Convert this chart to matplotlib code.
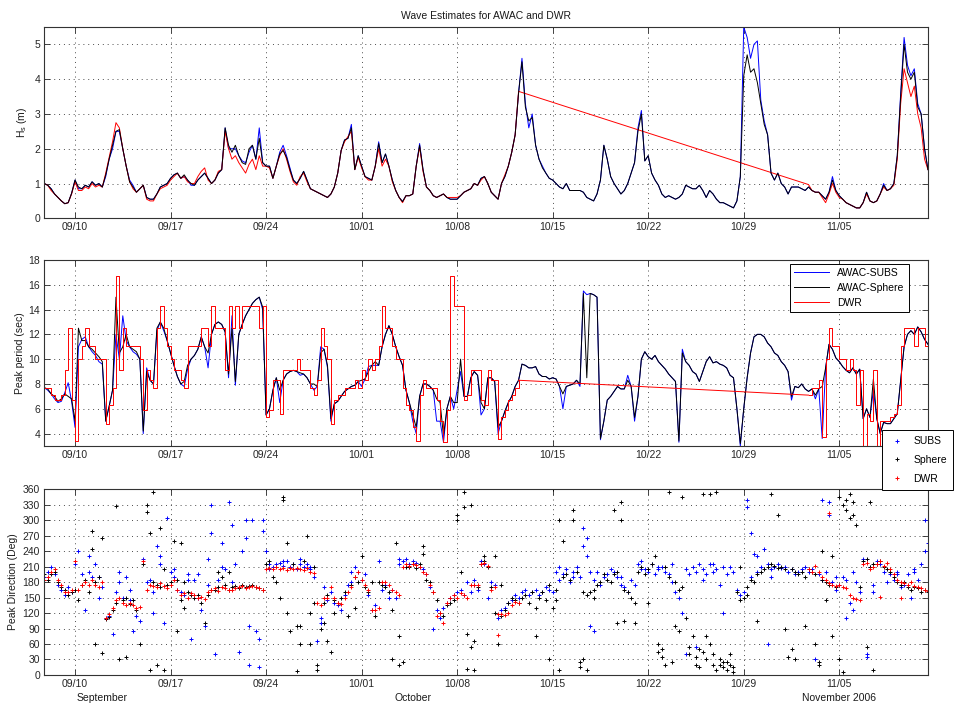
import numpy as np
import matplotlib
matplotlib.use("Agg")
import matplotlib.pyplot as plt
import matplotlib.dates as mdates
from matplotlib.transforms import blended_transform_factory

plt.rcParams['font.family'] = ['Liberation Sans', 'DejaVu Sans']
plt.rcParams['font.size'] = 7.5
plt.rcParams['mathtext.default'] = 'regular'

# --- data, one value every 6 h; AWAC series start 2006-09-07 18:00 ---
# each row below is one day (00, 06, 12, 18 h)
hs_subs = [1.0,
    0.95, 0.85, 0.7, 0.6,  0.5, 0.42, 0.45, 0.72,  1.1, 0.85, 0.85, 0.95,  0.9, 1.05, 0.95, 1.0,
    0.9, 1.2, 1.7, 2.0,  2.5, 2.5, 2.0, 1.5,  1.1, 0.95, 0.75, 0.85,  0.95, 0.6, 0.55, 0.55,
    0.7, 0.9, 0.95, 1.0,  1.15, 1.25, 1.3, 1.15,  1.2, 1.1, 0.95, 0.95,  1.1, 1.2, 1.3, 1.15,
    1.0, 1.1, 1.3, 1.4,  2.6, 2.0, 2.0, 2.0,  1.8, 1.65, 1.6, 1.9,  2.1, 1.7, 2.6, 1.6,
    1.5, 1.5, 1.15, 1.5,  1.9, 2.1, 1.8, 1.45,  1.1, 1.0, 1.15, 1.35,  1.1, 0.85, 0.8, 0.75,
    0.7, 0.65, 0.6, 0.7,  0.9, 1.3, 1.95, 2.25,  2.3, 2.7, 1.4, 1.8,
    1.5, 1.2, 1.15, 1.1,  1.5, 2.2, 1.6, 1.85,  1.5, 1.1, 0.8, 0.6,  0.48, 0.65, 0.65, 0.7,
    1.5, 2.15, 1.4, 0.9,  0.8, 0.65, 0.6, 0.65,  0.7, 0.6, 0.55, 0.55,  0.55, 0.65, 0.75, 0.8,
    0.85, 1.0, 0.95, 1.15,  1.2, 1.0, 0.75, 0.65,  0.55, 1.0, 1.2, 1.5,  1.9, 2.4, 3.6, 4.6,
    3.3, 2.6, 3.0, 2.1,  1.7, 1.5, 1.3, 1.15,  1.1, 1.0, 0.9, 0.85,  1.0, 0.8, 0.8, 0.8,
    0.8, 0.75, 0.6, 0.55,  0.5, 0.7, 1.1, 2.1,  1.7, 1.2, 1.0, 0.85,  0.7, 0.8, 1.0, 1.3,
    1.6, 2.6, 3.1, 1.65,  1.8, 1.3, 1.1, 0.95,  0.7, 0.6, 0.65, 0.6,  0.55, 0.6, 0.7, 0.95,
    0.9, 0.85, 0.85, 0.95,  0.8, 0.6, 0.8, 0.7,  0.55, 0.45, 0.45, 0.4,  0.35, 0.3, 0.5, 1.2,
    5.5, 5.2, 4.6, 5.0,  5.1, 3.4, 2.8, 2.4,  1.3, 1.1, 1.3, 1.0,
    0.9, 0.7, 0.9, 0.9,  0.9, 0.85, 0.8, 0.9,  0.8, 0.75, 0.75, 0.65,  0.55, 0.75, 1.2, 0.8,
    0.65, 0.55, 0.45, 0.4,  0.35, 0.3, 0.3, 0.45,  0.75, 0.5, 0.45, 0.5,  0.7, 1.0, 0.8, 0.85,
    1.0, 1.8, 3.6, 5.2,  4.4, 4.1, 4.3, 3.3,
    3.0, 2.0, 1.4]

hs_sphere = [1.0,
    0.95, 0.85, 0.7, 0.6,  0.5, 0.42, 0.45, 0.72,  1.1, 0.9, 0.85, 0.95,  0.9, 1.05, 0.95, 1.0,
    0.9, 1.25, 1.7, 2.1,  2.5, 2.55, 2.0, 1.5,  1.05, 0.9, 0.75, 0.85,  0.95, 0.6, 0.55, 0.55,
    0.7, 0.9, 0.95, 1.0,  1.15, 1.25, 1.3, 1.15,  1.25, 1.1, 1.0, 0.95,  1.1, 1.2, 1.3, 1.15,
    1.0, 1.1, 1.3, 1.4,  2.6, 2.1, 1.9, 2.1,  1.8, 1.6, 1.55, 2.0,  2.1, 1.7, 2.3, 1.6,
    1.5, 1.5, 1.15, 1.5,  1.85, 1.95, 1.75, 1.4,  1.1, 1.0, 1.15, 1.35,  1.1, 0.85, 0.8, 0.75,
    0.7, 0.65, 0.6, 0.7,  0.9, 1.3, 1.95, 2.25,  2.3, 2.6, 1.4, 1.8,
    1.5, 1.2, 1.15, 1.1,  1.5, 2.15, 1.6, 1.85,  1.5, 1.1, 0.8, 0.6,  0.48, 0.65, 0.65, 0.7,
    1.5, 2.1, 1.4, 0.9,  0.8, 0.65, 0.6, 0.65,  0.7, 0.6, 0.55, 0.55,  0.55, 0.65, 0.75, 0.8,
    0.85, 1.0, 0.95, 1.15,  1.2, 1.0, 0.75, 0.65,  0.55, 1.0, 1.2, 1.5,  1.9, 2.4, 3.6, 4.5,
    3.2, 2.8, 2.9, 2.1,  1.7, 1.45, 1.3, 1.15,  1.1, 1.0, 0.9, 0.85,  1.0, 0.8, 0.8, 0.8,
    0.8, 0.75, 0.6, 0.55,  0.5, 0.7, 1.1, 2.1,  1.7, 1.2, 1.0, 0.85,  0.7, 0.8, 1.0, 1.3,
    1.6, 2.5, 3.0, 1.65,  1.8, 1.3, 1.1, 0.95,  0.7, 0.6, 0.65, 0.6,  0.55, 0.6, 0.7, 0.95,
    0.9, 0.85, 0.85, 0.95,  0.8, 0.6, 0.8, 0.7,  0.55, 0.45, 0.45, 0.4,  0.35, 0.3, 0.5, 1.2,
    4.1, 4.7, 4.2, 4.3,  3.9, 3.3, 2.7, 2.4,  1.3, 1.1, 1.3, 1.0,
    0.9, 0.7, 0.9, 0.9,  0.9, 0.85, 0.8, 0.9,  0.8, 0.75, 0.75, 0.65,  0.55, 0.75, 1.1, 0.8,
    0.65, 0.55, 0.45, 0.4,  0.35, 0.3, 0.3, 0.45,  0.75, 0.5, 0.45, 0.5,  0.7, 0.95, 0.8, 0.85,
    1.0, 1.8, 3.5, 5.0,  4.2, 4.0, 4.2, 3.2,
    3.0, 2.0, 1.4]

# DWR: two pieces, 09/07 18:00 - 10/12 12:00 and 11/02 18:00 - 11/11 12:00 (no data between)
hs_dwr_a = [1.0,
    0.95, 0.8, 0.7, 0.6,  0.5, 0.42, 0.45, 0.7,  1.05, 0.8, 0.8, 0.9,  0.85, 1.0, 0.9, 0.95,
    0.9, 1.3, 1.75, 2.2,  2.75, 2.6, 2.0, 1.5,  1.05, 0.85, 0.75, 0.85,  0.95, 0.55, 0.5, 0.5,
    0.7, 0.85, 0.9, 0.95,  1.1, 1.2, 1.3, 1.15,  1.2, 1.05, 1.0, 1.0,  1.2, 1.35, 1.45, 1.1,
    1.0, 1.1, 1.35, 1.4,  2.5, 2.0, 1.7, 1.8,  1.6, 1.45, 1.3, 1.55,  1.7, 1.4, 1.8, 1.5,
    1.5, 1.45, 1.15, 1.5,  1.8, 2.0, 1.7, 1.35,  1.05, 0.95, 1.2, 1.3,  1.05, 0.85, 0.8, 0.75,
    0.7, 0.65, 0.6, 0.7,  0.9, 1.3, 1.95, 2.2,  2.35, 2.5, 1.4, 1.75,
    1.45, 1.2, 1.1, 1.1,  1.5, 2.0, 1.5, 1.7,  1.5, 1.05, 0.8, 0.6,  0.45, 0.65, 0.65, 0.7,
    1.5, 2.05, 1.35, 0.9,  0.8, 0.65, 0.6, 0.65,  0.7, 0.6, 0.6, 0.6,  0.6, 0.65, 0.75, 0.8,
    0.85, 1.0, 0.95, 1.1,  1.2, 1.0, 0.75, 0.65,  0.55, 1.0, 1.25, 1.5,  1.9, 2.4, 3.65]
hs_dwr_b = [0.97,
    0.8, 0.75, 0.75, 0.6,  0.45, 0.7, 1.0, 0.75,  0.6, 0.55, 0.45, 0.4,  0.35, 0.3, 0.3, 0.45,
    0.7, 0.5, 0.45, 0.5,  0.7, 0.9, 0.8, 0.85,  0.95, 1.7, 3.3, 4.3,  3.9, 3.5, 3.8, 3.0,
    2.6, 1.7, 1.4]

tp_subs = [7.7,
    7.5, 7.2, 6.8, 6.5,  6.6, 7.3, 8.1, 6.6,  4.5, 11.0, 11.6, 11.8,  11.0, 10.6, 10.3, 9.8,
    9.6, 5.0, 6.2, 7.5,  12.0, 10.0, 13.5, 11.5,  11.0, 10.6, 10.4, 10.0,  4.0, 9.3, 8.3, 8.0,
    12.3, 13.0, 12.3, 11.5,  10.5, 9.5, 8.6, 8.0,  7.8, 9.2, 10.0, 10.3,  10.8, 11.8, 11.0, 9.3,
    12.0, 12.8, 13.0, 12.8,  12.2, 8.5, 13.5, 7.9,  12.0, 12.8, 13.5, 14.0,  14.5, 14.8, 15.0, 14.0,
    5.5, 6.0, 7.5, 8.5,  6.5, 8.3, 8.8, 9.0,  9.1, 9.0, 8.7, 8.8,  8.5, 8.0, 7.5, 7.8,
    11.0, 10.8, 9.3, 5.0,  6.4, 6.6, 7.0, 7.4,  7.6, 7.8, 7.9, 8.2,
    7.8, 8.4, 9.4, 9.5,  9.5, 9.5, 11.0, 12.0,  12.7, 12.0, 11.0, 10.2,  9.5, 7.5, 6.5, 5.0,
    4.0, 7.0, 8.0, 8.0,  7.8, 7.5, 5.0, 5.0,  3.3, 6.0, 7.0, 6.0,  7.5, 9.0, 7.0, 7.0,
    8.5, 9.0, 8.7, 5.5,  6.0, 8.5, 8.5, 8.2,  4.0, 5.0, 5.8, 6.5,  7.0, 7.8, 8.3, 9.6,
    9.5, 9.3, 9.3, 9.4,  8.8, 8.6, 8.6, 8.4,  8.5, 8.4, 7.8, 6.0,  7.8, 7.9, 8.0, 8.3,
    7.8, 15.5, 15.2, 15.3,  15.2, 15.0, 3.5, 5.0,  6.7, 7.0, 7.4, 7.8,  7.6, 7.6, 8.7, 7.8,
    5.0, 7.0, 10.0, 10.6,  10.2, 10.0, 10.3, 9.8,  9.5, 9.2, 8.8, 8.5,  8.2, 3.3, 10.8, 9.8,
    9.5, 9.0, 8.8, 8.2,  9.0, 9.8, 10.2, 9.7,  9.8, 9.6, 9.5, 9.3,  8.7, 8.5, 6.0, 3.0,
    6.0, 8.5, 10.5, 11.8,  12.0, 12.0, 11.8, 11.3,  11.0, 10.5, 10.3, 9.8,
    9.5, 9.0, 6.7, 7.8,  7.7, 8.0, 7.6, 7.4,  7.6, 6.8, 7.6, 3.6,  9.3, 11.2, 10.8, 10.1,
    9.8, 9.4, 9.1, 8.9,  9.3, 8.8, 9.2, 5.2,  6.0, 5.3, 7.5, 5.2,  4.0, 4.9, 4.8, 4.8,
    5.2, 5.6, 8.3, 11.0,  12.0, 12.3, 12.0, 12.6,
    12.2, 11.6, 11.2]

tp_sphere = [7.7,
    7.6, 7.2, 7.0, 6.6,  6.8, 7.2, 7.0, 6.8,  5.0, 12.5, 11.5, 11.5,  11.0, 10.8, 10.5, 10.2,
    9.8, 5.0, 6.2, 7.5,  15.0, 10.5, 11.0, 12.0,  11.0, 10.8, 10.6, 10.0,  4.2, 9.0, 8.3, 8.0,
    12.5, 13.0, 12.5, 11.5,  10.5, 9.5, 8.6, 8.0,  8.2, 9.5, 10.0, 10.3,  10.8, 11.8, 11.0, 10.5,
    12.0, 12.8, 13.0, 12.8,  12.2, 8.8, 12.5, 8.2,  12.0, 12.8, 13.5, 14.0,  14.5, 14.8, 15.0, 14.2,
    5.5, 6.0, 7.5, 8.5,  7.5, 8.3, 8.8, 9.0,  9.1, 9.0, 8.9, 8.8,  8.5, 8.0, 8.0, 7.8,
    10.5, 10.8, 9.5, 5.2,  6.4, 6.6, 7.0, 7.4,  7.6, 7.8, 7.9, 8.2,
    8.3, 8.4, 9.0, 9.5,  9.8, 9.5, 11.0, 12.0,  12.7, 12.0, 11.0, 10.2,  9.5, 7.5, 6.5, 5.5,
    4.5, 7.0, 8.0, 8.0,  7.8, 7.5, 6.8, 6.5,  3.8, 6.0, 7.0, 6.5,  6.5, 10.0, 7.0, 7.0,
    8.5, 9.0, 8.7, 6.5,  6.0, 8.5, 8.5, 8.2,  4.5, 5.0, 5.8, 6.5,  7.0, 7.8, 8.3, 9.6,
    9.5, 9.3, 9.3, 9.4,  8.8, 8.6, 8.6, 8.4,  8.5, 8.4, 7.8, 7.2,  7.8, 7.9, 8.0, 8.3,
    8.0, 15.3, 8.5, 15.3,  15.2, 15.0, 3.6, 5.0,  6.7, 7.0, 7.4, 7.8,  7.6, 7.6, 8.3, 7.8,
    5.3, 7.0, 10.0, 10.6,  10.2, 10.0, 10.3, 9.8,  9.5, 9.2, 8.8, 8.5,  8.2, 3.4, 10.5, 9.8,
    9.5, 9.0, 8.8, 8.2,  9.0, 9.8, 10.2, 9.7,  9.8, 9.6, 9.5, 9.3,  8.7, 8.5, 6.0, 3.2,
    6.0, 8.5, 10.5, 11.8,  12.0, 12.0, 11.8, 11.3,  11.0, 10.5, 10.3, 9.8,
    9.5, 9.0, 7.0, 7.8,  7.7, 8.0, 7.6, 7.4,  7.6, 7.1, 7.6, 7.8,  9.3, 11.2, 10.8, 10.1,
    9.8, 9.4, 9.1, 8.9,  9.3, 8.8, 9.2, 5.2,  6.0, 5.3, 8.4, 5.2,  4.0, 4.9, 4.8, 4.8,
    5.2, 5.6, 8.3, 11.0,  12.0, 12.3, 12.0, 12.6,
    12.2, 11.6, 11.2]

tp_dwr_a = [7.7,
    7.7, 7.1, 6.7, 6.7,  7.1, 9.1, 12.5, 6.7,  3.4, 10.0, 11.1, 12.5,  11.1, 11.1, 10.0, 10.0,
    10.0, 4.8, 6.3, 7.7,  16.7, 9.1, 12.5, 11.1,  11.1, 11.1, 11.1, 10.0,  5.9, 9.1, 8.3, 7.7,
    12.5, 14.3, 12.5, 11.1,  10.0, 9.1, 9.1, 8.3,  7.7, 11.1, 11.1, 11.1,  11.1, 12.5, 12.5, 11.1,
    14.3, 12.5, 12.5, 12.5,  9.1, 14.3, 12.5, 14.3,  12.5, 14.3, 14.3, 14.3,  14.3, 14.3, 12.5, 14.3,
    5.3, 5.9, 8.3, 8.3,  5.6, 9.1, 9.1, 9.1,  9.1, 10.0, 9.1, 9.1,  9.1, 7.7, 7.1, 8.3,
    12.5, 11.1, 10.0, 4.8,  6.7, 7.1, 7.1, 7.7,  7.7, 7.7, 8.3, 7.7,
    9.1, 8.3, 10.0, 9.1,  10.0, 11.1, 14.3, 12.5,  12.5, 11.1, 10.0, 10.0,  7.7, 6.3, 5.9, 4.5,
    3.4, 7.1, 8.3, 7.7,  7.7, 7.7, 6.7, 5.0,  3.3, 5.9, 16.7, 14.3,  14.3, 14.3, 6.7, 7.1,
    9.1, 9.1, 9.1, 6.7,  6.3, 9.1, 8.3, 8.3,  3.6, 5.3, 5.9, 6.7,  7.1, 7.7, 8.3]
tp_dwr_b = [7.1,
    7.7, 7.7, 8.3, 3.7,  10.0, 12.5, 11.1, 11.1,  10.0, 10.0, 9.1, 10.0,  9.1, 6.3, 9.1, 2.9,
    5.6, 5.0, 9.1, 2.9,  5.0, 5.0, 5.0, 5.3,  5.6, 6.3, 11.1, 12.5,  12.5, 12.5, 11.1, 12.5,
    12.5, 11.1, 11.1]

dir_subs = [190,
    200, 210, 195, 175,  165, 155, 170, 160,  215, 240, 195, 125,  200, 190, 215, 150,
    170, 110, 115, 80,  160, 200, 150, 190,  145, 85, 115, 105,  225, 180, 185, 120,
    250, 215, 100, 305,  200, 190, 165, 160,  155, 195, 70, 185,  150, 125, 95, 225,
    275, 40, 185, 255,  205, 335, 290, 215,  45, 240, 265, 20,  300, 85, 15, 280,
    240, 215, 210, 215,  218, 212, 220, 210,  215, 205, 225, 210,  215, 205, 190, 65,
    100, 170, 145, 160,  140, 135, 125, 155,  175, 180, 210, 200,
    185, 195, 155, 125,  135, 220, 165, 175,  150, 165, 150, 215,  220, 225, 215, 220,
    218, 210, 205, 195,  170, 90, 125, 110,  130, 140, 150, 155,  160, 165, 155, 180,
    160, 185, 165, 220,  215, 150, 180, 175,  110, 125, 130, 140,  145, 155, 150, 160,
    165, 155, 160, 165,  155, 160, 170, 165,  160, 200, 210, 195,  205, 180, 200, 210,
    190, 250, 265, 200,  185, 200, 175, 190,  195, 205, 200, 190,  175, 170, 160, 185,
    175, 215, 220, 205,  200, 215, 195, 205,  210, 200, 195, 180,  160, 150, 120, 205,
    195, 210, 200, 215,  205, 195, 215, 200,  205, 175, 210, 195,  210, 200, 165, 155,
    160, 340, 190, 235,  200, 210, 245, 215,  205, 210, 215, 208,
    210, 200, 205, 195,  200, 205, 210, 200,  205, 30, 195, 185,  200, 335, 180, 165,
    175, 190, 185, 140,  125, 180, 160, 225,  40, 210, 175, 220,  215, 200, 180, 195,
    185, 200, 170, 175,  195, 150, 200, 185,
    215, 240, 255]

dir_sphere = [195,
    185, 195, 200, 180,  170, 165, 155, 160,  165, 145, 175, 185,  160, 245, 180, 190,
    265, 108, 112, 125,  140, 30, 145, 150,  138, 145, 125, 60,  215, 315, 10, 180,
    175, 170, 205, 175,  180, 260, 185, 145,  130, 160, 155, 150,  155, 140, 100, 155,
    165, 165, 170, 190,  175, 165, 170, 172,  168, 175, 170, 172,  175, 170, 168, 165,
    215, 220, 190, 180,  150, 340, 120, 85,  215, 95, 60, 220,  270, 120, 210, 20,
    90, 140, 155, 45,  145, 140, 150, 160,  115, 175, 190, 180,
    230, 170, 160, 180,  115, 180, 175, 170,  160, 125, 255, 75,  25, 210, 210, 215,
    208, 215, 250, 185,  180, 160, 145, 120,  115, 135, 140, 145,  300, 200, 355, 80,
    330, 10, 170, 215,  220, 210, 170, 230,  60, 115, 125, 140,  150, 145, 140, 150,
    155, 140, 160, 130,  150, 160, 145, 30,  130, 165, 300, 190,  195, 185, 320, 200,
    15, 160, 155, 160,  165, 175, 180, 195,  185, 180, 195, 200,  335, 105, 160, 150,
    140, 200, 210, 195,  205, 215, 230, 60,  35, 210, 190, 25,  180, 165, 170, 110,
    40, 75, 20, 50,  350, 30, 60, 20,  355, 30, 15, 25,  40, 15, 160, 145,
    150, 170, 185, 180,  195, 200, 205, 210,  215, 212, 208, 210,
    205, 35, 205, 200,  195, 200, 190, 205,  200, 195, 25, 185,  180, 175, 230, 170,
    345, 330, 320, 305,  335, 290, 170, 220,  225, 210, 215, 215,  220, 210, 205, 200,
    190, 180, 175, 180,  170, 165, 170, 168,
    160, 165, 160]

dir_dwr_a = [185,
    190, 200, 205, 185,  175, 160, 160, 165,  220, 165, 175, 180,  175, 185, 175, 170,
    180, 110, 118, 130,  145, 150, 140, 135,  140, 135, 130, 132,  220, 165, 175, 172,
    170, 178, 172, 168,  175, 185, 165, 155,  158, 150, 158, 155,  150, 152, 148, 160,
    165, 168, 162, 170,  168, 165, 165, 168,  170, 172, 168, 170,  172, 170, 168, 165,
    205, 208, 205, 210,  206, 208, 204, 207,  205, 208, 205, 203,  207, 200, 197, 140,
    135, 150, 150, 170,  150, 140, 138, 150,  160, 170, 190, 200,
    185, 175, 165, 125,  125, 130, 180, 180,  175, 165, 160, 155,  210, 215, 212, 215,
    213, 210, 200, 195,  175, 160, 115, 120,  100, 140, 150, 155,  150, 158, 155, 150,
    175, 175, 175, 215,  218, 212, 165, 170,  118, 118, 117, 120,  135, 142, 140]
dir_dwr_b = [205,
    200, 212, 200, 190,  185, 178, 175, 172,  175, 170, 168, 155,  150, 148, 145, 215,
    218, 205, 210, 215,  220, 212, 218, 205,  195, 185, 180, 178,  175, 180, 172, 170,
    168, 165, 163]

# extra direction points between the 6-hourly ones ('MM-DD HH', degrees)
subs_extra_time = ['09-11 00', '09-11 18', '09-13 06', '09-14 00', '09-15 18', '09-16 06',
    '09-17 06', '09-18 06', '09-19 00', '09-19 18', '09-20 00', '09-20 18', '09-21 12',
    '09-22 12', '09-22 18', '09-23 12', '09-23 18', '09-24 06', '09-25 06', '09-26 12',
    '09-27 06', '09-28 00', '09-30 06', '10-03 18', '10-09 06', '10-15 12', '10-16 12',
    '10-17 06', '10-17 12', '10-17 18', '10-18 00', '10-20 00', '10-21 12', '10-22 18',
    '10-23 18', '10-24 18', '10-25 12', '10-26 00', '10-26 18', '10-27 12', '10-29 06',
    '10-29 12', '10-30 00', '10-30 18', '10-31 00', '11-03 18', '11-04 06', '11-04 18',
    '11-05 12', '11-06 00', '11-07 00', '11-07 12', '11-09 06', '11-10 12', '11-11 06']
subs_extra_deg = [230, 190, 180, 165, 160, 230, 205, 185, 195, 175, 330, 210, 180,
    300, 95, 70, 300, 205, 220, 215, 210, 110, 200, 225, 175, 185, 190,
    285, 230, 95, 85, 190, 205, 210, 215, 40, 55, 185, 215, 120, 325,
    275, 230, 60, 190, 340, 310, 190, 110, 200, 35, 160, 195, 205, 300]

sphere_extra_time = ['09-11 06', '09-11 12', '09-12 00', '09-13 00', '09-13 18', '09-15 06',
    '09-15 12', '09-15 18', '09-16 00', '09-16 06', '09-16 12', '09-17 12', '09-17 18',
    '09-18 00', '09-20 12', '09-21 06', '09-25 06', '09-25 12', '09-26 06', '09-26 12',
    '09-27 06', '09-27 12', '09-27 18', '09-28 06', '09-28 12', '09-29 00', '09-30 12',
    '10-03 06', '10-03 18', '10-05 12', '10-08 00', '10-08 12', '10-08 18', '10-09 00',
    '10-09 06', '10-10 00', '10-10 18', '10-11 06', '10-13 18', '10-14 18', '10-15 00',
    '10-15 06', '10-15 12', '10-15 18', '10-16 12', '10-17 00', '10-17 06', '10-17 12',
    '10-18 00', '10-19 12', '10-19 18', '10-20 00', '10-20 06', '10-21 00', '10-22 00',
    '10-22 18', '10-23 00', '10-23 06', '10-23 12', '10-24 00', '10-24 06', '10-24 12',
    '10-25 00', '10-25 12', '10-25 18', '10-26 00', '10-26 06', '10-26 12', '10-26 18',
    '10-27 00', '10-27 06', '10-27 12', '10-27 18', '10-28 00', '10-28 06', '10-28 18',
    '10-29 06', '10-30 00', '10-31 00', '10-31 12', '11-01 00', '11-01 12', '11-01 18',
    '11-02 12', '11-03 06', '11-03 12', '11-03 18', '11-04 00', '11-04 12', '11-05 00',
    '11-05 06', '11-05 12', '11-05 18', '11-06 00', '11-07 00', '11-07 06', '11-07 12']
sphere_extra_deg = [280, 60, 42, 327, 35, 330, 275, 355, 20, 285, 10, 85, 255,
    180, 200, 200, 345, 255, 7, 95, 60, 140, 10, 100, 65, 120, 130,
    30, 20, 235, 310, 325, 12, 55, 65, 230, 120, 175, 75, 175, 360,
    145, 10, 260, 300, 25, 30, 10, 150, 320, 100, 300, 165, 100, 140,
    45, 50, 20, 355, 95, 85, 345, 55, 35, 15, 45, 75, 350, 40,
    10, 20, 25, 10, 20, 5, 210, 155, 105, 350, 310, 90, 50, 30,
    95, 60, 20, 240, 145, 75, 30, 5, 340, 350, 310, 55, 335, 10]

dwr_extra_time = ['10-11 00', '11-04 06', '11-08 00', '11-09 12']
dwr_extra_deg = [78, 313, 152, 149]

month_names = ['September', 'October', 'November 2006']
month_label_dates = ['2006-09-12', '2006-10-04T18:00', '2006-11-05']
week_ticks = np.arange(np.datetime64('2006-09-10'), np.datetime64('2006-11-06'),
                       np.timedelta64(7, 'D'))


def six_hourly(start, values):
    return np.datetime64(start) + np.arange(len(values)) * np.timedelta64(6, 'h')


def stamps(times):
    return np.array(['2006-%sT%s:00' % (s[:5], s[6:]) for s in times], dtype='datetime64[m]')


t_awac = six_hourly('2006-09-07T18:00', hs_sphere)
t_dwr_a = six_hourly('2006-09-07T18:00', hs_dwr_a)
t_dwr_b = six_hourly('2006-11-02T18:00', hs_dwr_b)
t_dwr = np.concatenate([t_dwr_a, t_dwr_b])

BLUE, RED = (0, 0, 1), (1, 0, 0)

fig = plt.figure(figsize=(9.55, 7.07), dpi=100)
ax1 = fig.add_axes([0.0464, 0.6912, 0.9253, 0.2706])
ax2 = fig.add_axes([0.0464, 0.3692, 0.9253, 0.2631])
ax3 = fig.add_axes([0.0464, 0.0453, 0.9253, 0.2627])


def style(ax, ylim, yticks, ylabel, labelpad):
    ax.set_xlim(t_awac[0], t_awac[-1])
    ax.set_ylim(*ylim)
    ax.set_yticks(yticks)
    ax.set_xticks(week_ticks)
    ax.xaxis.set_major_formatter(mdates.DateFormatter('%m/%d'))
    ax.tick_params(direction='in', top=True, right=True, length=4, width=0.6,
                   pad=3, labelsize=7.5, colors='0.15')
    ax.grid(True, color='0.3', linestyle=(0, (1, 4)), linewidth=0.7)
    ax.set_axisbelow(True)
    ax.set_ylabel(ylabel, labelpad=labelpad, color='0.1')
    for sp in ax.spines.values():
        sp.set_linewidth(0.8)
        sp.set_color('0.2')


# significant wave height
ax1.plot(t_awac, hs_subs, color=BLUE, lw=0.7, zorder=2)
ax1.plot(t_dwr, hs_dwr_a + hs_dwr_b, color=RED, lw=0.7, zorder=2.2)
ax1.plot(t_awac, hs_sphere, color='k', lw=0.7, zorder=2.5)
style(ax1, (0, 5.5), range(0, 6), 'H$_s$ (m)', 3.5)
ax1.set_title('Wave Estimates for AWAC and DWR', fontsize=7.5, pad=6, color='0.1')

# peak period
l1, = ax2.plot(t_awac, tp_subs, color=BLUE, lw=0.7, zorder=2, label='AWAC-SUBS')
l2, = ax2.plot(t_awac, tp_sphere, color='k', lw=0.7, zorder=2.2, label='AWAC-Sphere')
l3, = ax2.plot(t_dwr_a, tp_dwr_a, color=RED, lw=0.7, zorder=2.5, drawstyle='steps-post',
               label='DWR')
ax2.plot(t_dwr_b, tp_dwr_b, color=RED, lw=0.7, zorder=2.5, drawstyle='steps-post')
ax2.plot([t_dwr_a[-1], t_dwr_b[0]], [tp_dwr_a[-1], tp_dwr_b[0]], color=RED, lw=0.7, zorder=2.5)
style(ax2, (3, 18), range(4, 19, 2), 'Peak period (sec)', 2.5)
leg = ax2.legend(handles=[l1, l2, l3], loc='upper right', bbox_to_anchor=(0.9785, 0.9785),
                 borderaxespad=0, fancybox=False, edgecolor='k', framealpha=1,
                 fontsize=7.5, handlelength=3.4, labelspacing=0.45, borderpad=0.4)
leg.get_frame().set_linewidth(0.7)

# peak direction
mk = dict(ls='none', marker='+', ms=2.6, mew=0.7)
p1, = ax3.plot(np.concatenate([t_awac, stamps(subs_extra_time)]),
               dir_subs + subs_extra_deg, color=BLUE, label='SUBS', **mk)
p2, = ax3.plot(np.concatenate([t_awac, stamps(sphere_extra_time)]),
               dir_sphere + sphere_extra_deg, color='k', label='Sphere', **mk)
p3, = ax3.plot(np.concatenate([t_dwr, stamps(dwr_extra_time)]),
               dir_dwr_a + dir_dwr_b + dwr_extra_deg, color=RED, label='DWR', **mk)
style(ax3, (0, 360), range(0, 361, 30), 'Peak Direction (Deg)', 3)
leg2 = ax3.legend(handles=[p1, p2, p3], loc='upper left', bbox_to_anchor=(0.948, 1.319),
                  borderaxespad=0, fancybox=False, edgecolor='k', framealpha=1,
                  fontsize=7.5, handlelength=1.6, handletextpad=0.8, labelspacing=0.85,
                  borderpad=0.6, markerscale=1.0)
leg2.get_frame().set_linewidth(0.7)
leg2.set_zorder(10)

trans = blended_transform_factory(ax3.transData, ax3.transAxes)
for name, day in zip(month_names, month_label_dates):
    ax3.text(mdates.date2num(np.datetime64(day)), -0.125, name, transform=trans,
             ha='center', va='center', fontsize=7.5, color='0.1')

fig.savefig('out.png', dpi=100)
